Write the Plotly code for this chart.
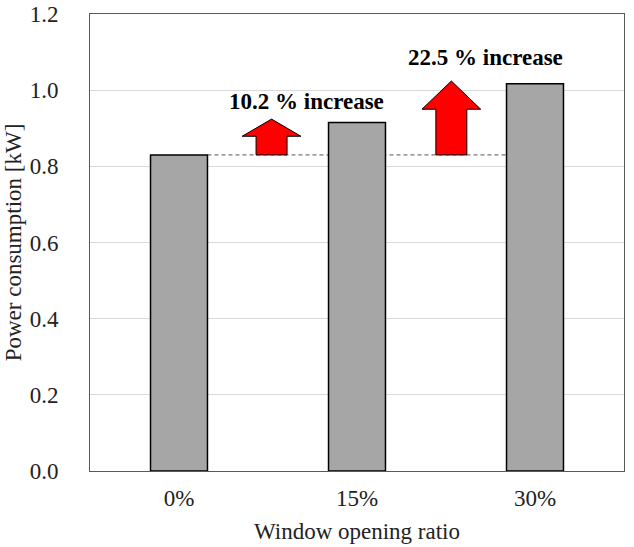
import plotly.graph_objects as go

categories = ["0%", "15%", "30%"]
power_kw = [0.83, 0.915, 1.017]
increase_labels = ["10.2 % increase", "22.5 % increase"]
arrow_x = [0.52, 1.53]
arrow_tip = [0.924, 1.024]
arrow_headbase = [0.879, 0.95]
label_y = [0.971, 1.087]
label_x = [0.715, 1.72]

SERIF = "Liberation Serif, Times New Roman, serif"
xs = list(range(len(categories)))
fig = go.Figure()
fig.add_trace(go.Bar(x=xs, y=power_kw, width=0.32, hoverinfo="skip",
                     marker=dict(color="#a6a6a6", line=dict(color="black", width=1.5))))

fig.add_shape(type="line", x0=xs[0] + 0.16, x1=xs[2] - 0.16, y0=power_kw[0], y1=power_kw[0],
              line=dict(color="#555", width=1, dash="4px,3px"), layer="below")

sw, hw = 0.087, 0.165
for ax, tip, hb, lab, lx, ly in zip(arrow_x, arrow_tip, arrow_headbase, increase_labels, label_x, label_y):
    b = power_kw[0]
    path = (f"M {ax-sw},{b} L {ax+sw},{b} L {ax+sw},{hb} L {ax+hw},{hb} "
            f"L {ax},{tip} L {ax-hw},{hb} L {ax-sw},{hb} Z")
    fig.add_shape(type="path", path=path, fillcolor="#ff0000", line=dict(color="black", width=1))
    fig.add_annotation(x=lx, y=ly, text=f"<b>{lab}</b>", showarrow=False,
                       font=dict(family=SERIF, size=23, color="black"))

fig.update_layout(
    width=634, height=547, showlegend=False, hovermode=False,
    margin=dict(l=90, r=10, t=14, b=76),
    plot_bgcolor="white", paper_bgcolor="white",
    font=dict(family=SERIF, size=23, color="#222"),
    xaxis=dict(range=[-0.5, 2.5], tickvals=xs, ticktext=categories, showgrid=False,
               showline=True, linecolor="#595959", linewidth=1, mirror=True, ticks="",
               ticklabelstandoff=6, automargin=False,
               tickfont=dict(family=SERIF, size=23, color="#222"),
               title=dict(text="Window opening ratio", font=dict(family=SERIF, size=23), standoff=13)),
    yaxis=dict(range=[0, 1.2], tickvals=[0, 0.2, 0.4, 0.6, 0.8, 1.0, 1.2],
               ticktext=["0.0", "0.2", "0.4", "0.6", "0.8", "1.0", "1.2"],
               showgrid=True, gridcolor="#d9d9d9", gridwidth=1,
               showline=True, linecolor="#595959", linewidth=1, mirror=True, ticks="",
               ticklabelstandoff=26, zeroline=False, automargin=False,
               ticklabeloverflow="allow",
               tickfont=dict(family=SERIF, size=23, color="#222"),
               title=dict(text="Power consumption [kW]", font=dict(family=SERIF, size=23), standoff=1)),
)
fig.write_html("out.html", config={"displayModeBar": False, "staticPlot": True},
               post_script="document.body.style.margin='0px';")
